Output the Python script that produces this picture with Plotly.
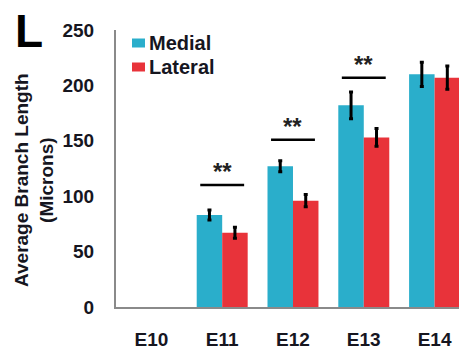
import plotly.graph_objects as go

categories = ["E10", "E11", "E12", "E13", "E14"]
medial = [None, 83, 127, 182, 210]
medial_err = [None, 4.5, 5, 12, 11]
lateral = [None, 67, 96, 153, 207]
lateral_err = [None, 5, 5.5, 8, 10.5]
sig_index = [1, 2, 3]
sig_height = [110, 151, 207]
sig_label = ["**", "**", "**"]
y_ticks = [0, 50, 100, 150, 200, 250]
series_names = ["Medial", "Lateral"]

FONT = "Liberation Sans, Arial, sans-serif"
TXT = "#16161f"
BLUE = "#2aaecb"
RED = "#e8333a"
COLORS = [BLUE, RED]

W, H = 459, 349
ML, MR, MT = 116, 0, 30
MB = H - 307
PW, PH = W - ML - MR, H - MT - MB


def px(xpix):
    return (xpix - ML) / PW


def py(ypix):
    return (H - MB - ypix) / PH


fig = go.Figure()
fig.add_trace(go.Bar(
    x=categories, y=medial, name=series_names[0], marker=dict(color=BLUE, line=dict(width=0)),
    error_y=dict(type="data", array=medial_err, visible=True, color="black", thickness=3, width=2),
))
fig.add_trace(go.Bar(
    x=categories, y=lateral, name=series_names[1], marker=dict(color=RED, line=dict(width=0)),
    error_y=dict(type="data", array=lateral_err, visible=True, color="black", thickness=3, width=2),
))

for i, h, lab in zip(sig_index, sig_height, sig_label):
    fig.add_shape(type="line", xref="x", yref="y", x0=i - 0.31, x1=i + 0.31, y0=h, y1=h,
                  line=dict(color="black", width=2.5))
    fig.add_annotation(x=i, y=h, xref="x", yref="y", text=lab, showarrow=False,
                       yanchor="bottom", yshift=-2,
                       font=dict(family=FONT, size=24, color="#222", weight="bold"))

# legend (swatch + label)
for k, (name, col) in enumerate(zip(series_names, COLORS)):
    cy = 43 + 24 * k
    fig.add_shape(type="rect", xref="paper", yref="paper",
                  x0=px(132), x1=px(145), y0=py(cy + 4.5), y1=py(cy - 4.5),
                  fillcolor=col, line=dict(width=0))
    fig.add_annotation(xref="paper", yref="paper", x=px(147), y=py(cy), text=name,
                       showarrow=False, xanchor="left", yanchor="middle",
                       font=dict(family=FONT, size=20, color=TXT, weight="bold"))

fig.add_annotation(xref="paper", yref="paper", x=px(34), y=py(180),
                   text="Average Branch Length<br>(Microns)",
                   textangle=-90, showarrow=False, xanchor="center", yanchor="middle",
                   font=dict(family=FONT, size=19, color=TXT, weight="bold"))
fig.add_annotation(xref="paper", yref="paper", x=px(29), y=py(31), text="L", showarrow=False,
                   xanchor="center", yanchor="middle",
                   font=dict(family=FONT, size=46, color="black", weight="bold"))

fig.update_layout(
    width=W, height=H,
    margin=dict(l=ML, r=MR, t=MT, b=MB, autoexpand=False),
    paper_bgcolor="white", plot_bgcolor="white",
    barmode="group", bargap=0.28, bargroupgap=0,
    showlegend=False,
    font=dict(family=FONT, color=TXT),
    xaxis=dict(range=[-0.5, 4.345], showgrid=False, showline=True, linecolor="#8a8a8a", linewidth=2,
               ticks="", tickfont=dict(family=FONT, size=19, color=TXT, weight="bold"),
               ticklabelstandoff=14, zeroline=False, automargin=False),
    yaxis=dict(range=[0, 250], tickvals=y_ticks, showgrid=False, showline=True, linecolor="#8a8a8a",
               linewidth=2, ticks="", tickfont=dict(family=FONT, size=19, color=TXT, weight="bold"),
               ticklabelstandoff=16, zeroline=False, automargin=False),
)

fig.write_html("out.html", config={"displayModeBar": False},
               post_script="document.body.style.margin='0px';")
